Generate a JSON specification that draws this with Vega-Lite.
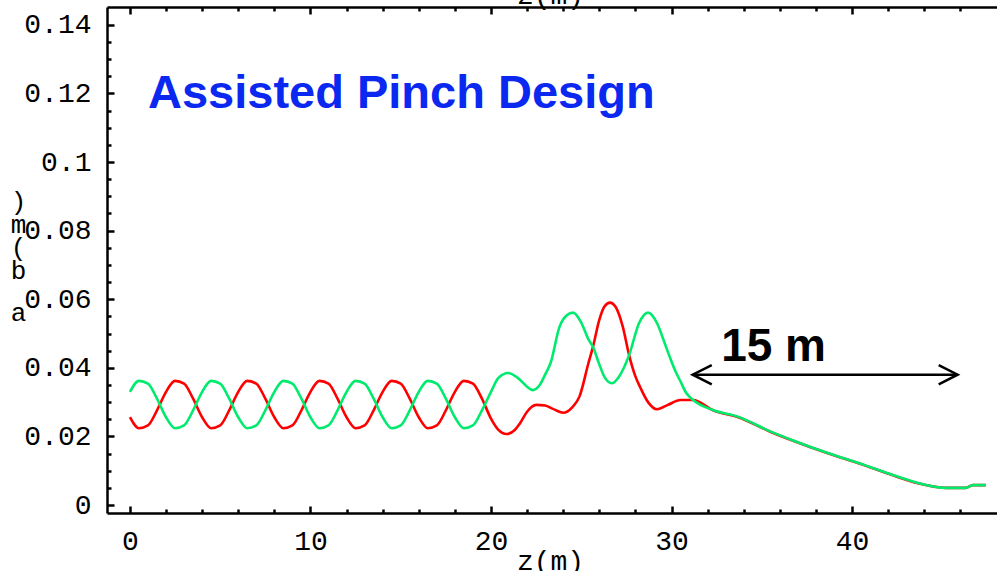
{
  "$schema": "https://vega.github.io/schema/vega-lite/v6.json",
  "width": 890,
  "height": 506,
  "autosize": "none",
  "padding": {"left": 107, "top": 7, "right": 0, "bottom": 58},
  "background": "white",
  "config": {
    "view": {"stroke": null},
    "axis": {
      "grid": false,
      "domainColor": "black",
      "domainWidth": 2.5,
      "tickColor": "black",
      "tickWidth": 2.5,
      "labelFont": "Liberation Mono",
      "labelFontSize": 28,
      "labelColor": "black",
      "titleFont": "Liberation Mono",
      "titleFontSize": 28,
      "titleFontWeight": "normal",
      "titleColor": "black"
    }
  },
  "datasets": {
    "red": [
      {"z": 0, "v": 0.0256}, {"z": 0.5, "v": 0.0224}, {"z": 1, "v": 0.0232}, {"z": 1.5, "v": 0.0276},
      {"z": 2, "v": 0.033}, {"z": 2.5, "v": 0.0362}, {"z": 3, "v": 0.0354}, {"z": 3.5, "v": 0.031},
      {"z": 4, "v": 0.0256}, {"z": 4.5, "v": 0.0224}, {"z": 5, "v": 0.0232}, {"z": 5.5, "v": 0.0276},
      {"z": 6, "v": 0.033}, {"z": 6.5, "v": 0.0362}, {"z": 7, "v": 0.0354}, {"z": 7.5, "v": 0.031},
      {"z": 8, "v": 0.0256}, {"z": 8.5, "v": 0.0224}, {"z": 9, "v": 0.0232}, {"z": 9.5, "v": 0.0276},
      {"z": 10, "v": 0.033}, {"z": 10.5, "v": 0.0362}, {"z": 11, "v": 0.0354}, {"z": 11.5, "v": 0.031},
      {"z": 12, "v": 0.0256}, {"z": 12.5, "v": 0.0224}, {"z": 13, "v": 0.0232}, {"z": 13.5, "v": 0.0276},
      {"z": 14, "v": 0.033}, {"z": 14.5, "v": 0.0362}, {"z": 15, "v": 0.0354}, {"z": 15.5, "v": 0.031},
      {"z": 16, "v": 0.0256}, {"z": 16.5, "v": 0.0224}, {"z": 17, "v": 0.0232}, {"z": 17.5, "v": 0.0276},
      {"z": 18, "v": 0.033}, {"z": 18.5, "v": 0.0362}, {"z": 19, "v": 0.0354}, {"z": 19.5, "v": 0.031},
      {"z": 20, "v": 0.0252}, {"z": 20.4, "v": 0.022}, {"z": 20.87, "v": 0.0207}, {"z": 21.3, "v": 0.0218},
      {"z": 21.6, "v": 0.0238}, {"z": 22, "v": 0.0272}, {"z": 22.5, "v": 0.0292}, {"z": 23, "v": 0.029},
      {"z": 23.4, "v": 0.0281}, {"z": 24, "v": 0.0269}, {"z": 24.5, "v": 0.0285}, {"z": 24.9, "v": 0.0316},
      {"z": 25.4, "v": 0.0414}, {"z": 25.65, "v": 0.0461}, {"z": 26, "v": 0.054}, {"z": 26.3, "v": 0.058},
      {"z": 26.6, "v": 0.059}, {"z": 26.9, "v": 0.0578}, {"z": 27.3, "v": 0.052}, {"z": 27.65, "v": 0.0437},
      {"z": 28, "v": 0.0375}, {"z": 28.25, "v": 0.0345}, {"z": 28.7, "v": 0.03}, {"z": 29.2, "v": 0.0279},
      {"z": 29.8, "v": 0.0292}, {"z": 30.5, "v": 0.0306}, {"z": 31.2, "v": 0.0306},
      {"z": 32.3, "v": 0.0276}, {"z": 33.7, "v": 0.0256}, {"z": 35.5, "v": 0.0213}, {"z": 36.7, "v": 0.0188},
      {"z": 38.7, "v": 0.015}, {"z": 40.4, "v": 0.0121}, {"z": 42.3, "v": 0.0086}, {"z": 43.6, "v": 0.0064},
      {"z": 45.2, "v": 0.005}, {"z": 46.3, "v": 0.005}, {"z": 46.7, "v": 0.0058}, {"z": 47.4, "v": 0.0058}
    ],
    "green": [
      {"z": 0, "v": 0.033}, {"z": 0.5, "v": 0.0362}, {"z": 1, "v": 0.0354}, {"z": 1.5, "v": 0.031},
      {"z": 2, "v": 0.0256}, {"z": 2.5, "v": 0.0224}, {"z": 3, "v": 0.0232}, {"z": 3.5, "v": 0.0276},
      {"z": 4, "v": 0.033}, {"z": 4.5, "v": 0.0362}, {"z": 5, "v": 0.0354}, {"z": 5.5, "v": 0.031},
      {"z": 6, "v": 0.0256}, {"z": 6.5, "v": 0.0224}, {"z": 7, "v": 0.0232}, {"z": 7.5, "v": 0.0276},
      {"z": 8, "v": 0.033}, {"z": 8.5, "v": 0.0362}, {"z": 9, "v": 0.0354}, {"z": 9.5, "v": 0.031},
      {"z": 10, "v": 0.0256}, {"z": 10.5, "v": 0.0224}, {"z": 11, "v": 0.0232}, {"z": 11.5, "v": 0.0276},
      {"z": 12, "v": 0.033}, {"z": 12.5, "v": 0.0362}, {"z": 13, "v": 0.0354}, {"z": 13.5, "v": 0.031},
      {"z": 14, "v": 0.0256}, {"z": 14.5, "v": 0.0224}, {"z": 15, "v": 0.0232}, {"z": 15.5, "v": 0.0276},
      {"z": 16, "v": 0.033}, {"z": 16.5, "v": 0.0362}, {"z": 17, "v": 0.0354}, {"z": 17.5, "v": 0.031},
      {"z": 18, "v": 0.0256}, {"z": 18.5, "v": 0.0224}, {"z": 19, "v": 0.0232}, {"z": 19.5, "v": 0.0276},
      {"z": 20, "v": 0.033}, {"z": 20.4, "v": 0.037}, {"z": 20.95, "v": 0.0385}, {"z": 21.5, "v": 0.037},
      {"z": 22, "v": 0.0345}, {"z": 22.3, "v": 0.0335}, {"z": 22.7, "v": 0.035}, {"z": 23, "v": 0.038},
      {"z": 23.3, "v": 0.0414}, {"z": 23.8, "v": 0.052}, {"z": 24.2, "v": 0.0553}, {"z": 24.55, "v": 0.0561},
      {"z": 25, "v": 0.0532}, {"z": 25.4, "v": 0.0483}, {"z": 25.65, "v": 0.0461}, {"z": 26, "v": 0.041},
      {"z": 26.3, "v": 0.0372}, {"z": 26.7, "v": 0.0355}, {"z": 27.1, "v": 0.0375}, {"z": 27.65, "v": 0.0437},
      {"z": 28.2, "v": 0.053}, {"z": 28.7, "v": 0.0561}, {"z": 29.2, "v": 0.053}, {"z": 29.6, "v": 0.0475},
      {"z": 29.9, "v": 0.0432}, {"z": 30.2, "v": 0.0392}, {"z": 30.5, "v": 0.036}, {"z": 30.8, "v": 0.0328},
      {"z": 31.2, "v": 0.0306},
      {"z": 32.3, "v": 0.0277}, {"z": 33.7, "v": 0.0257}, {"z": 35.5, "v": 0.0214}, {"z": 36.7, "v": 0.0189},
      {"z": 38.7, "v": 0.0151}, {"z": 40.4, "v": 0.0122}, {"z": 42.3, "v": 0.0087}, {"z": 43.6, "v": 0.0065},
      {"z": 45.2, "v": 0.005}, {"z": 46.3, "v": 0.005}, {"z": 46.7, "v": 0.0058}, {"z": 47.4, "v": 0.0058}
    ],
    "arrow": [
      {"part": "shaft", "i": 0, "z": 31.17, "v": 0.0380},
      {"part": "shaft", "i": 1, "z": 45.85, "v": 0.0380},
      {"part": "left", "i": 0, "z": 32.23, "v": 0.0408},
      {"part": "left", "i": 1, "z": 31.17, "v": 0.0380},
      {"part": "left", "i": 2, "z": 32.23, "v": 0.0352},
      {"part": "right", "i": 0, "z": 44.8, "v": 0.0408},
      {"part": "right", "i": 1, "z": 45.85, "v": 0.0380},
      {"part": "right", "i": 2, "z": 44.8, "v": 0.0352}
    ]
  },
  "resolve": {"axis": {"x": "independent", "y": "independent"}},
  "layer": [
    {
      "data": {"name": "red"},
      "mark": {"type": "line", "color": "#ff0000", "strokeWidth": 2.6, "interpolate": "monotone"},
      "encoding": {
        "x": {
          "field": "z", "type": "quantitative",
          "scale": {"domain": [-1.27, 48.03], "nice": false, "zero": false},
          "axis": {
            "orient": "bottom",
            "values": [0, 10, 20, 30, 40],
            "tickSize": -7,
            "labelPadding": 21,
            "labelFlush": false,
            "title": "z(m)",
            "titleX": 443,
            "titleY": 56,
            "titleAnchor": "middle",
            "titleAlign": "center",
            "titleBaseline": "alphabetic"
          }
        },
        "y": {
          "field": "v", "type": "quantitative",
          "scale": {"domain": [-0.00233, 0.1452], "nice": false, "zero": false},
          "axis": {
            "orient": "left",
            "values": [0, 0.02, 0.04, 0.06, 0.08, 0.1, 0.12, 0.14],
            "labelExpr": "datum.value == 0 ? '0' : format(datum.value, '.2~f')",
            "tickSize": -7,
            "labelPadding": 23,
            "labelFlush": false,
            "title": [")", "m", "(", "b"],
            "titleAngle": 0,
            "titleFontSize": 26,
            "titleLineHeight": 23,
            "titleX": -89,
            "titleY": 181,
            "titleAlign": "center",
            "titleBaseline": "top"
          }
        }
      }
    },
    {
      "data": {"name": "green"},
      "mark": {"type": "line", "color": "#00eb6e", "strokeWidth": 2.6, "interpolate": "monotone"},
      "encoding": {
        "x": {
          "field": "z", "type": "quantitative",
          "scale": {"domain": [-1.27, 48.03], "nice": false, "zero": false},
          "axis": {
            "orient": "bottom",
            "values": [2, 4, 6, 8, 12, 14, 16, 18, 22, 24, 26, 28, 32, 34, 36, 38, 42, 44, 46],
            "tickSize": -4,
            "labels": false,
            "domain": false,
            "title": null
          }
        },
        "y": {
          "field": "v", "type": "quantitative",
          "scale": {"domain": [-0.00233, 0.1452], "nice": false, "zero": false},
          "axis": {
            "orient": "left",
            "values": [0.005, 0.01, 0.015, 0.025, 0.03, 0.035, 0.045, 0.05, 0.055, 0.065, 0.07, 0.075, 0.085, 0.09, 0.095, 0.105, 0.11, 0.115, 0.125, 0.13, 0.135],
            "tickSize": -4,
            "labels": false,
            "domain": false,
            "title": "a",
            "titleAngle": 0,
            "titleFontSize": 26,
            "titleX": -89,
            "titleY": 292,
            "titleAlign": "center",
            "titleBaseline": "top"
          }
        }
      }
    },
    {
      "data": {"name": "arrow"},
      "mark": {"type": "line", "color": "black", "strokeWidth": 2.5},
      "encoding": {
        "detail": {"field": "part"},
        "order": {"field": "i"},
        "x": {
          "field": "z", "type": "quantitative",
          "scale": {"domain": [-1.27, 48.03], "nice": false, "zero": false},
          "axis": {
            "orient": "top",
            "values": [0, 10, 20, 30, 40],
            "tickSize": -7,
            "labels": false,
            "title": "z(m)",
            "titleX": 443,
            "titleY": -4,
            "titleAnchor": "middle",
            "titleAlign": "center",
            "titleBaseline": "alphabetic"
          }
        },
        "y": {
          "field": "v", "type": "quantitative",
          "scale": {"domain": [-0.00233, 0.1452], "nice": false, "zero": false},
          "axis": null
        }
      }
    },
    {
      "data": {"values": [{"z": 1.0, "v": 0.1157, "t": "Assisted Pinch Design"}]},
      "mark": {"type": "text", "font": "Liberation Sans", "fontWeight": "bold", "fontSize": 47, "color": "#0a28f0", "align": "left", "baseline": "alphabetic"},
      "encoding": {
        "text": {"field": "t"},
        "x": {
          "field": "z", "type": "quantitative",
          "scale": {"domain": [-1.27, 48.03], "nice": false, "zero": false},
          "axis": {
            "orient": "top",
            "values": [2, 4, 6, 8, 12, 14, 16, 18, 22, 24, 26, 28, 32, 34, 36, 38, 42, 44, 46],
            "tickSize": -4,
            "labels": false,
            "domain": false,
            "title": null
          }
        },
        "y": {
          "field": "v", "type": "quantitative",
          "scale": {"domain": [-0.00233, 0.1452], "nice": false, "zero": false},
          "axis": null
        }
      }
    },
    {
      "data": {"values": [{"z": 32.75, "v": 0.042, "t": "15 m"}]},
      "mark": {"type": "text", "font": "Liberation Sans", "fontWeight": "bold", "fontSize": 46, "color": "black", "align": "left", "baseline": "alphabetic"},
      "encoding": {
        "text": {"field": "t"},
        "x": {
          "field": "z", "type": "quantitative",
          "scale": {"domain": [-1.27, 48.03], "nice": false, "zero": false},
          "axis": null
        },
        "y": {
          "field": "v", "type": "quantitative",
          "scale": {"domain": [-0.00233, 0.1452], "nice": false, "zero": false},
          "axis": null
        }
      }
    }
  ]
}
